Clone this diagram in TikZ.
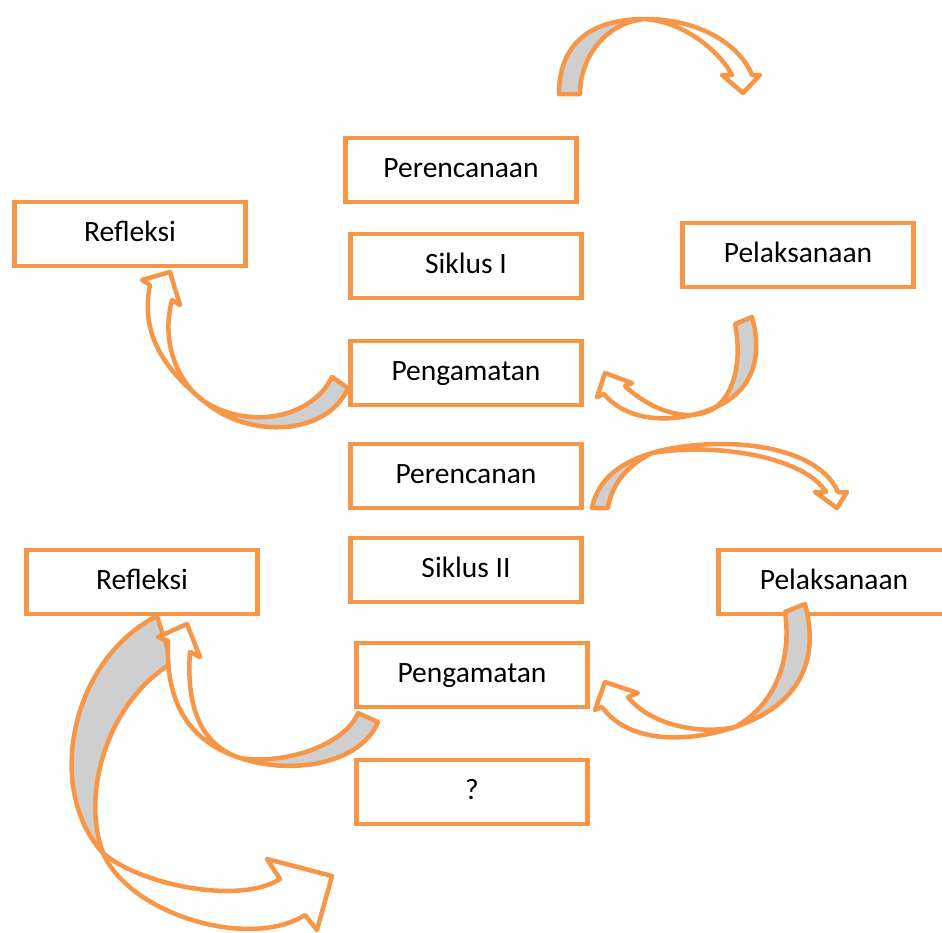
\documentclass[tikz,border=0pt]{standalone}
\usepackage{fontspec}
\setmainfont{Carlito}
\definecolor{boxorange}{HTML}{F79646}
\definecolor{backgray}{HTML}{CFCFCF}

\begin{document}
\begin{tikzpicture}[x=1pt,y=-1pt,
        stage/.style={draw=boxorange, line width=4.5pt, fill=white,
            minimum width=231pt, minimum height=64pt, inner sep=0pt,
            text height=20pt, text depth=5pt,
            font=\fontsize{29.5}{35}\selectfont},
        band/.style={draw=boxorange, fill=white, line width=4.5pt, line join=round}]
    \useasboundingbox (0,0) rectangle (942,932);
    \clip (0,0) rectangle (942,932);

    % First cycle.
    \node[stage] (plan1)  at (461,170) {Perencanaan};
    \node[stage] (refl1)  at (130,234) {Refleksi};
    \node[stage] (cycle1) at (466,266) {Siklus I};
    \node[stage] (act1)   at (798,255) {Pelaksanaan};
    \node[stage] (obs1)   at (466,373) {Pengamatan};

    % Second cycle.
    \node[stage] (plan2)  at (466,476) {Perencanan};
    \node[stage] (cycle2) at (466,570) {Siklus II};
    \node[stage] (refl2)  at (142,582) {Refleksi};
    \node[stage] (act2)   at (834,582) {Pelaksanaan};
    \node[stage] (obs2)   at (472,675) {Pengamatan};
    \node[stage] (next)   at (472,792) {?};

    % Curved arrows of the first cycle.
    \filldraw[band, path picture={\fill[backgray] (530,0) rectangle (645,110);}]
        (559,94) .. controls (559,40) and (595,19) .. (645,19)
        .. controls (700,19) and (740,45) .. (752,75)
        -- (760,75) -- (743,93) -- (722,75) -- (732,75)
        .. controls (720,52) and (685,22) .. (645,19)
        .. controls (608,22) and (580,55) .. (580,94) -- cycle;
    \filldraw[band, path picture={\fill[backgray] (716,300) rectangle (800,430);}]
        (752,317) .. controls (764,360) and (750,392) .. (716,407)
        .. controls (680,423) and (630,425) .. (604,394)
        -- (597,397) -- (605,373) -- (632,383) -- (625,386)
        .. controls (650,410) and (690,425) .. (716,407)
        .. controls (735,392) and (742,360) .. (735,324) -- cycle;
    \filldraw[band, path picture={\fill[backgray] (205,360) rectangle (400,450);}]
        (348,388) .. controls (328,435) and (250,440) .. (205,402)
        .. controls (165,370) and (140,335) .. (150,285)
        -- (142,280) -- (170,272) -- (180,305) -- (172,300)
        .. controls (160,345) and (180,385) .. (205,402)
        .. controls (250,430) and (312,418) .. (332,377) -- cycle;

    % Curved arrows of the second cycle.
    \filldraw[band, path picture={\fill[backgray] (570,430) rectangle (652,520);}]
        (592,508) .. controls (598,478) and (622,462) .. (652,453)
        .. controls (710,436) and (815,440) .. (838,492)
        -- (847,492) -- (837,508) -- (815,492) -- (826,492)
        .. controls (805,458) and (720,442) .. (652,453)
        .. controls (628,465) and (612,483) .. (608,508) -- cycle;
    \filldraw[band, path picture={\fill[backgray] (735,590) rectangle (850,760);}]
        (805,604) .. controls (820,660) and (800,705) .. (735,727)
        .. controls (690,742) and (630,745) .. (602,707)
        -- (595,710) -- (605,682) -- (638,693) -- (628,697)
        .. controls (650,725) and (700,735) .. (735,727)
        .. controls (775,705) and (792,660) .. (785,612) -- cycle;
    \filldraw[band, path picture={\fill[backgray] (30,600) rectangle (220,853);}]
        (157,616) .. controls (70,660) and (45,790) .. (103,853)
        .. controls (140,885) and (240,905) .. (280,879)
        -- (267,859) -- (332,876) -- (317,930) -- (305,915)
        .. controls (250,950) and (130,915) .. (103,853)
        .. controls (80,790) and (110,700) .. (172,663) -- cycle;
    \filldraw[band, path picture={\fill[backgray] (240,690) rectangle (400,790);}]
        (378,722) .. controls (360,765) and (290,775) .. (240,758)
        .. controls (195,743) and (165,710) .. (168,641)
        -- (158,637) -- (187,624) -- (200,657) -- (190,652)
        .. controls (185,720) and (210,748) .. (240,758)
        .. controls (285,765) and (345,745) .. (358,713) -- cycle;
\end{tikzpicture}
\end{document}
